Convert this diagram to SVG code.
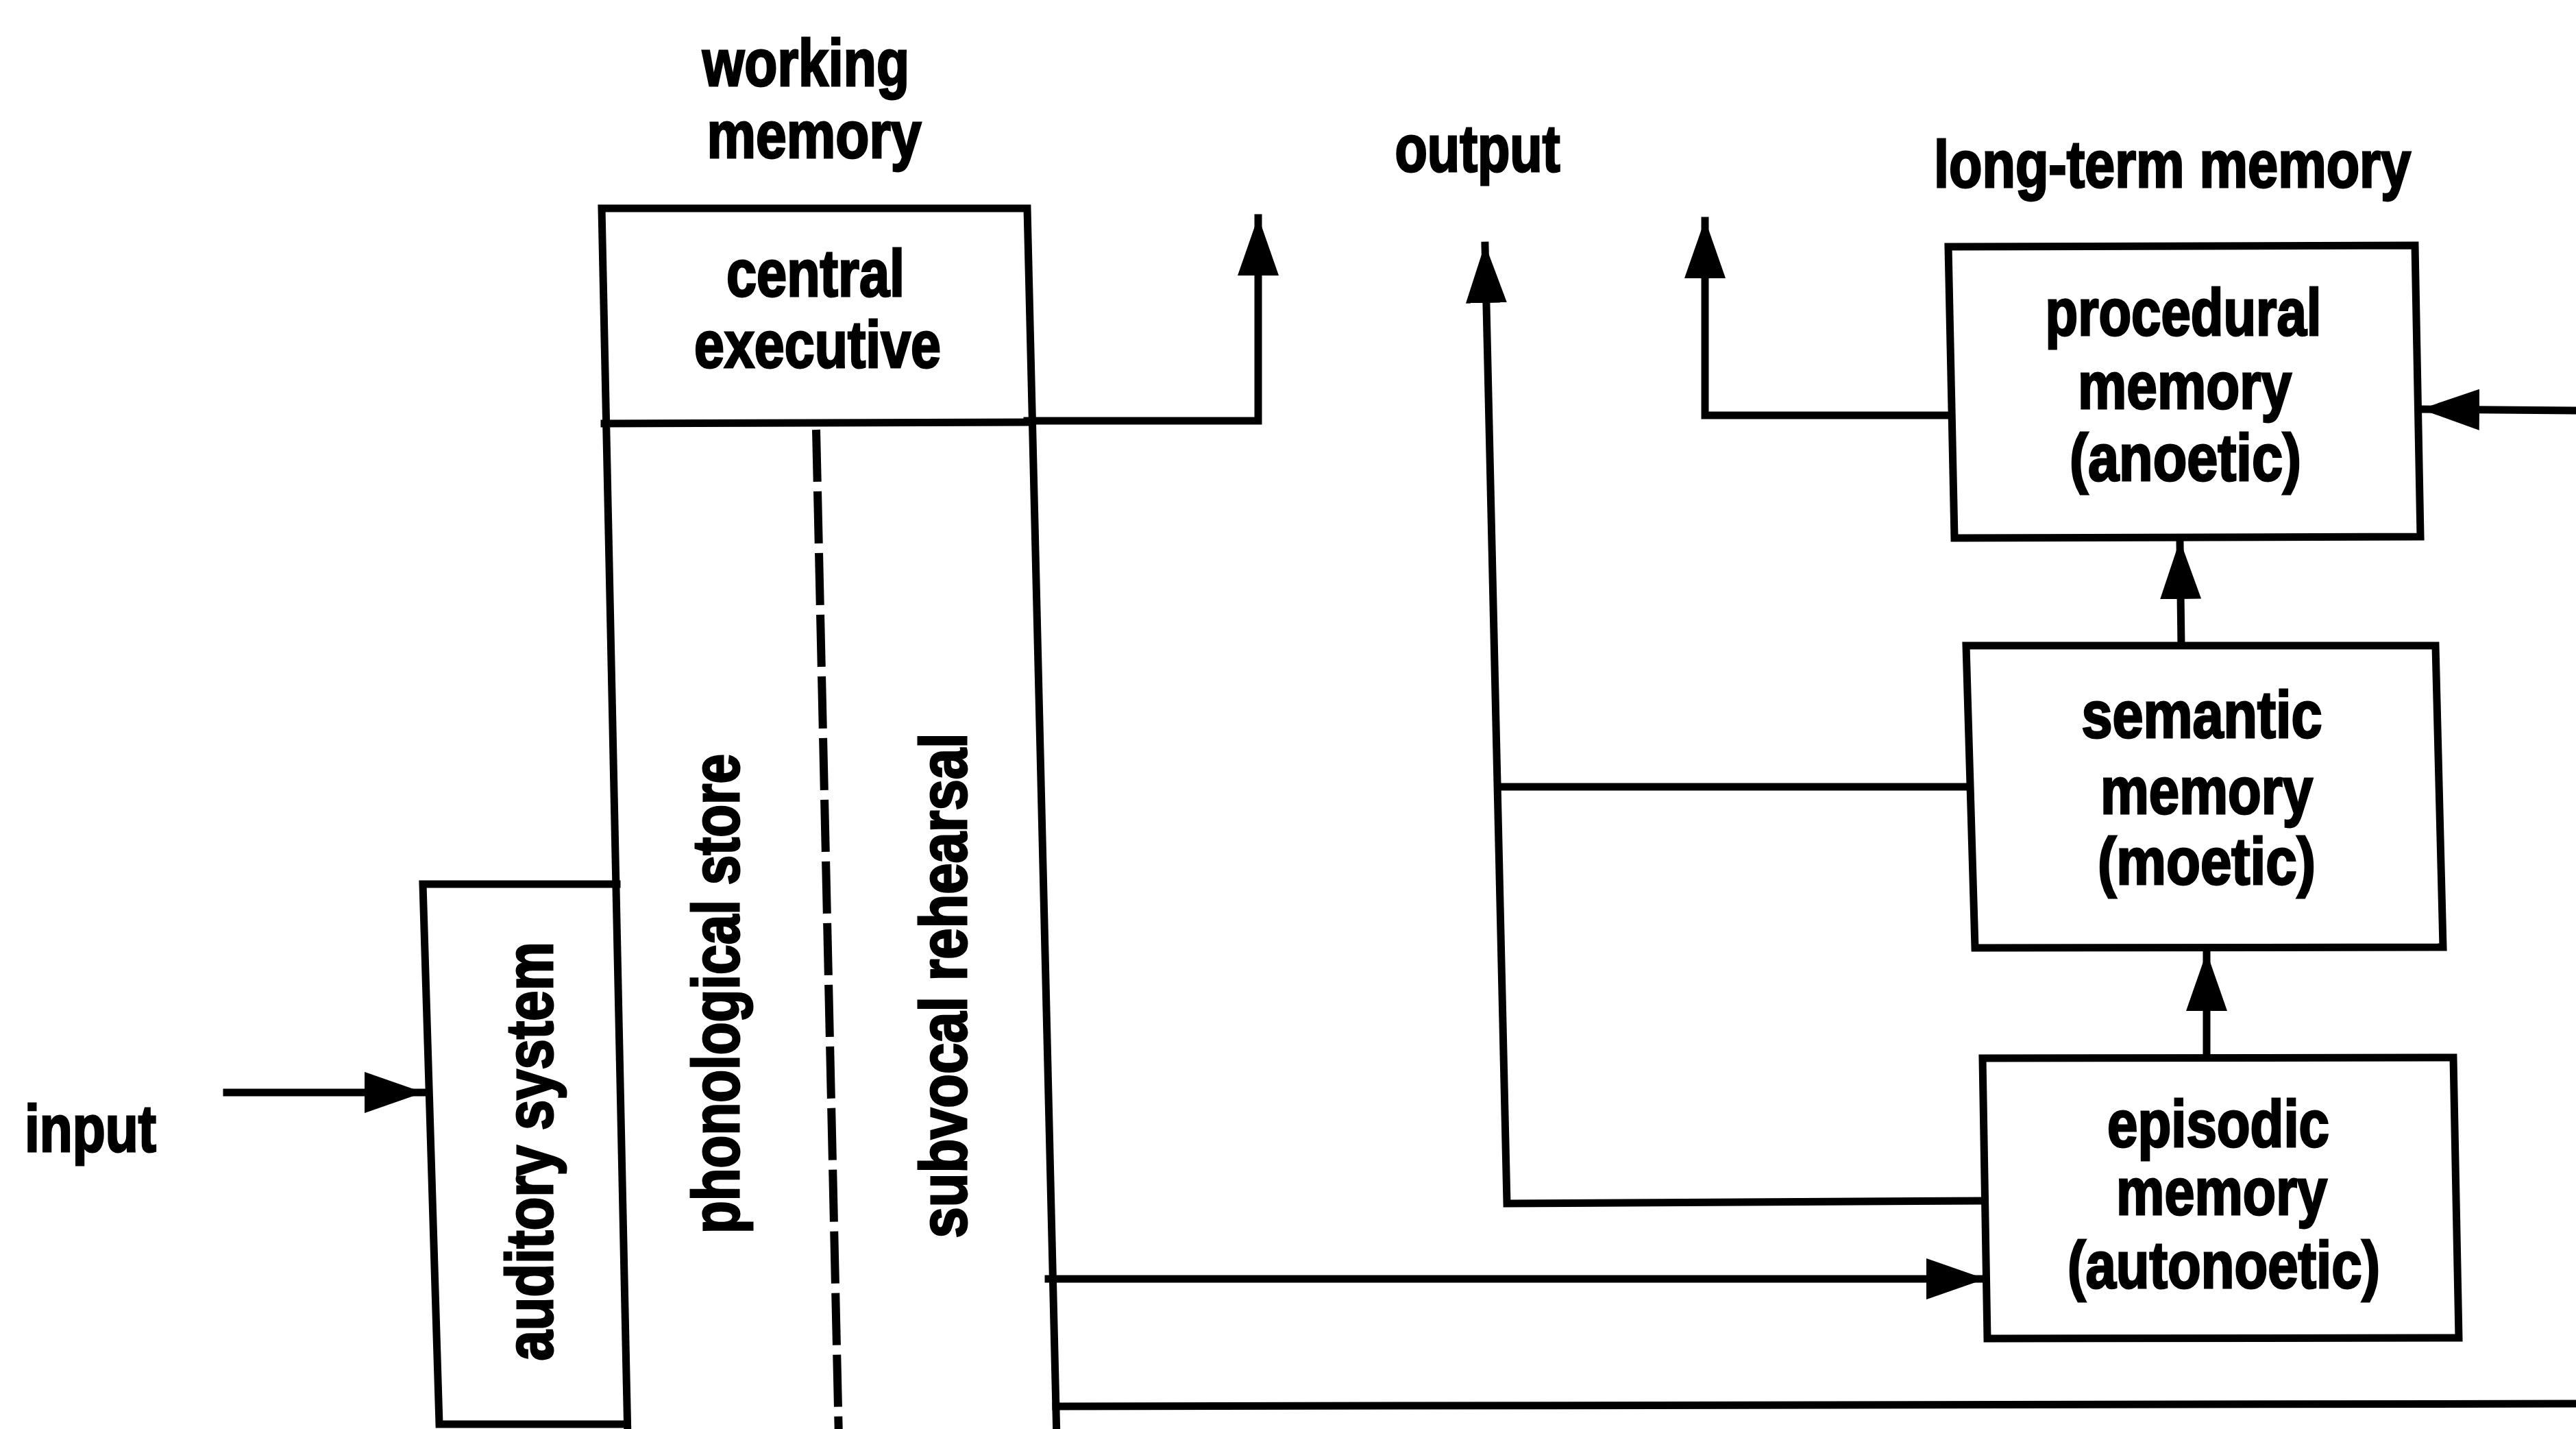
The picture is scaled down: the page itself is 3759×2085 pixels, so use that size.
<svg xmlns="http://www.w3.org/2000/svg" width="3759" height="2085" viewBox="0 0 3759 2085">
<style>
  .ln { fill: none; stroke: #000; stroke-width: 11; stroke-linejoin: miter; stroke-linecap: square; }
  .box { fill: #fff; stroke: #000; stroke-width: 11; stroke-linejoin: miter; }
  .dash { fill: none; stroke: #000; stroke-width: 12; stroke-dasharray: 76 14; }
  .t { font-family: "Liberation Sans", Arial, sans-serif; font-weight: bold; font-size: 96px; fill: #000; stroke: #000; stroke-width: 3; text-anchor: middle; }
</style>
<defs>
  <marker id="ah" markerUnits="userSpaceOnUse" viewBox="0 0 86 60" markerWidth="86" markerHeight="60" refX="84" refY="30" orient="auto">
    <path d="M0,0 L86,30 L0,60 z" fill="#000"/>
  </marker>
</defs>
<rect x="0" y="0" width="3759" height="2085" fill="#fff"/>

<g id="labels">
  <text class="t" x="1176" y="125" textLength="302" lengthAdjust="spacingAndGlyphs">working</text>
  <text class="t" x="1188" y="230" textLength="313" lengthAdjust="spacingAndGlyphs">memory</text>
  <text class="t" x="2156" y="250" textLength="241" lengthAdjust="spacingAndGlyphs">output</text>
  <text class="t" x="3170" y="273" textLength="696" lengthAdjust="spacingAndGlyphs">long-term memory</text>
  <text class="t" x="132" y="1680" textLength="192" lengthAdjust="spacingAndGlyphs">input</text>
</g>

<g id="connectors">
  <path class="ln" d="M331,1594 L616,1594" marker-end="url(#ah)"/>
  <path class="ln" d="M1499,614 L1836,614 L1836,318" marker-end="url(#ah)"/>
  <path class="ln" d="M2896,1752 L2199,1756 L2167,358" marker-end="url(#ah)"/>
  <path class="ln" d="M2872,1148 L2187,1148"/>
  <path class="ln" d="M2845,606 L2488,606 L2488,322" marker-end="url(#ah)"/>
  <path class="ln" d="M3759,599 L3534,597" marker-end="url(#ah)"/>
  <path class="ln" d="M3183,942 L3181,790" marker-end="url(#ah)"/>
  <path class="ln" d="M3220,1543 L3220,1391" marker-end="url(#ah)"/>
  <path class="ln" d="M1530,1866 L2895,1866" marker-end="url(#ah)"/>
  <path class="ln" d="M1541,2052 L3770,2048"/>
</g>

<g id="working-memory">
  <path class="ln" d="M916,2100 L878,304 L1499,304 L1542,2100"/>
  <path class="ln" d="M882,618 L1499,616"/>
  <path class="dash" d="M1191,627 L1224,2100"/>
  <text class="t" x="1190" y="432" textLength="260" lengthAdjust="spacingAndGlyphs">central</text>
  <text class="t" x="1193" y="536" textLength="360" lengthAdjust="spacingAndGlyphs">executive</text>
</g>

<g id="phonological-store">
  <text class="t" transform="translate(1078,1450) rotate(-90)" x="0" y="0" textLength="700" lengthAdjust="spacingAndGlyphs">phonological store</text>
</g>

<g id="subvocal-rehearsal">
  <text class="t" transform="translate(1410,1438) rotate(-90)" x="0" y="0" textLength="737" lengthAdjust="spacingAndGlyphs">subvocal rehearsal</text>
</g>

<g id="auditory-system">
  <path class="ln" d="M900,1290 L617,1290 L641,2078 L915,2078"/>
  <text class="t" transform="translate(806,1680) rotate(-90)" x="0" y="0" textLength="611" lengthAdjust="spacingAndGlyphs">auditory system</text>
</g>

<g id="procedural-memory">
  <path class="box" d="M2843,360 L3524,358 L3532,783 L2852,785 Z"/>
  <text class="t" x="3186" y="489" textLength="403" lengthAdjust="spacingAndGlyphs">procedural</text>
  <text class="t" x="3188" y="596" textLength="312" lengthAdjust="spacingAndGlyphs">memory</text>
  <text class="t" x="3189" y="701" textLength="338" lengthAdjust="spacingAndGlyphs">(anoetic)</text>
</g>

<g id="semantic-memory">
  <path class="box" d="M2869,942 L3554,942 L3565,1382 L2882,1383 Z"/>
  <text class="t" x="3213" y="1076" textLength="351" lengthAdjust="spacingAndGlyphs">semantic</text>
  <text class="t" x="3220" y="1187" textLength="310" lengthAdjust="spacingAndGlyphs">memory</text>
  <text class="t" x="3220" y="1290" textLength="318" lengthAdjust="spacingAndGlyphs">(moetic)</text>
</g>

<g id="episodic-memory">
  <path class="box" d="M2893,1544 L3580,1543 L3588,1952 L2900,1953 Z"/>
  <text class="t" x="3237" y="1673" textLength="324" lengthAdjust="spacingAndGlyphs">episodic</text>
  <text class="t" x="3242" y="1772" textLength="308" lengthAdjust="spacingAndGlyphs">memory</text>
  <text class="t" x="3245" y="1879" textLength="456" lengthAdjust="spacingAndGlyphs">(autonoetic)</text>
</g>
</svg>
